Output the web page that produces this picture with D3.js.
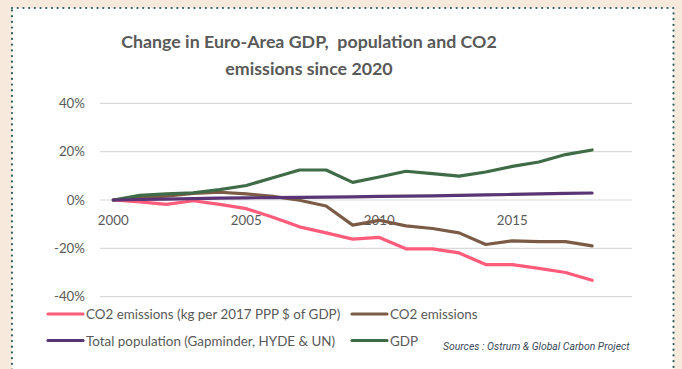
<!DOCTYPE html>
<html><head><meta charset="utf-8">
<script src="https://cdn.jsdelivr.net/npm/d3@7"></script>
<style>
html,body{margin:0;padding:0;background:#f7eadd;}
svg{display:block;}
</style></head>
<body>
<svg id="c" width="682" height="369"></svg>
<script>
const years = d3.range(2000, 2020); // category axis 2000..2019
const yearLabels = ["2000","2005","2010","2015"];
const yTicks = [40, 20, 0, -20, -40];
const co2Intensity = [0,-0.8,-1.8,-0.3,-1.8,-3.6,-7.1,-11.1,-13.6,-16.2,-15.5,-20.2,-20.2,-21.9,-26.7,-26.7,-28.3,-30.0,-33.2];
const co2 = [0,1.0,1.6,2.7,3.2,2.5,1.5,-0.1,-2.5,-10.4,-8.4,-10.7,-11.8,-13.6,-18.4,-16.9,-17.2,-17.2,-19.0];
const population = [0,0.2,0.4,0.6,0.8,0.9,1.0,1.1,1.2,1.3,1.5,1.6,1.7,1.9,2.1,2.3,2.5,2.7,2.9];
const gdp = [0,1.9,2.5,3.0,4.3,6.0,9.2,12.4,12.4,7.3,9.5,11.9,10.9,9.9,11.6,13.9,15.7,18.8,20.7];
const seriesNames = ["CO2 emissions (kg per 2017 PPP $ of GDP)","CO2 emissions","Total population (Gapminder, HYDE & UN)","GDP"];
const colors = ["#ff5b7a","#7b5b45","#5a3575","#3f6b47"];
const titleLines = ["Change in Euro-Area GDP,  population and CO2","emissions since 2020"];
const sourceText = "Sources : Ostrum & Global Carbon Project";

const svg = d3.select("#c");
const dataSeries = [co2Intensity, co2, population, gdp];

// frame
svg.append("rect").attr("x",12).attr("y",8).attr("width",661.5).attr("height",380)
  .attr("fill","#ffffff").attr("stroke","#2e5e5e").attr("stroke-width",2.2)
  .attr("stroke-dasharray","0.1 5.6").attr("stroke-linecap","round");

const font = "Lato, 'Open Sans', sans-serif";
const textColor = "#595959";

// title
svg.append("g").selectAll("text").data(titleLines).join("text")
  .attr("x",309).attr("y",(d,i)=>48+i*27).attr("text-anchor","middle")
  .style("white-space","pre")
  .attr("font-family",font).attr("font-weight","bold").attr("font-size",17.8)
  .attr("fill",textColor).text(d=>d);

const x = d3.scaleBand().domain(years).range([100,632]);
const y = d3.scaleLinear().domain([-40,40]).range([296.7,103.3]);

// gridlines
svg.append("g").selectAll("line").data(yTicks).join("line")
  .attr("x1",100).attr("x2",632).attr("y1",d=>y(d)).attr("y2",d=>y(d))
  .attr("stroke","#d9d9d9").attr("stroke-width",1.2);

// y labels
svg.append("g").selectAll("text").data(yTicks).join("text")
  .attr("x",85).attr("y",d=>y(d)+4.5).attr("text-anchor","end")
  .attr("font-family",font).attr("font-size",13.3).attr("fill",textColor)
  .text(d=>d+"%");

// x labels
svg.append("g").selectAll("text").data(yearLabels).join("text")
  .attr("x",d=>x(+d)+x.bandwidth()/2).attr("y",225).attr("text-anchor","middle")
  .attr("font-family",font).attr("font-size",13.3).attr("fill",textColor)
  .text(d=>d);

// lines
const line = d3.line().x((d,i)=>x(years[i])+x.bandwidth()/2).y(d=>y(d));
const drawOrder = [0,1,3,2];
svg.append("g").selectAll("path").data(drawOrder).join("path")
  .attr("d",k=>line(dataSeries[k])).attr("fill","none")
  .attr("stroke",k=>colors[k]).attr("stroke-width",3.2)
  .attr("stroke-linejoin","round").attr("stroke-linecap","round");

// legend
const legendPos = [[48,314],[352,314],[48,340.5],[352,340.5]];
const lg = svg.append("g").selectAll("g").data(seriesNames).join("g")
  .attr("transform",(d,i)=>`translate(${legendPos[i][0]},${legendPos[i][1]})`);
lg.append("line").attr("x1",0).attr("x2",35).attr("y1",0).attr("y2",0)
  .attr("stroke",(d,i)=>colors[i]).attr("stroke-width",3.2).attr("stroke-linecap","round");
lg.append("text").attr("x",38).attr("y",5).attr("font-family",font).attr("font-size",13.4)
  .attr("fill",textColor).text(d=>d);

// sources
svg.append("text").attr("x",443).attr("y",350).attr("font-family","Roboto, sans-serif")
  .attr("font-style","italic").attr("font-size",10.4).attr("fill","#3b4a5a").text(sourceText);
</script>
</body></html>
